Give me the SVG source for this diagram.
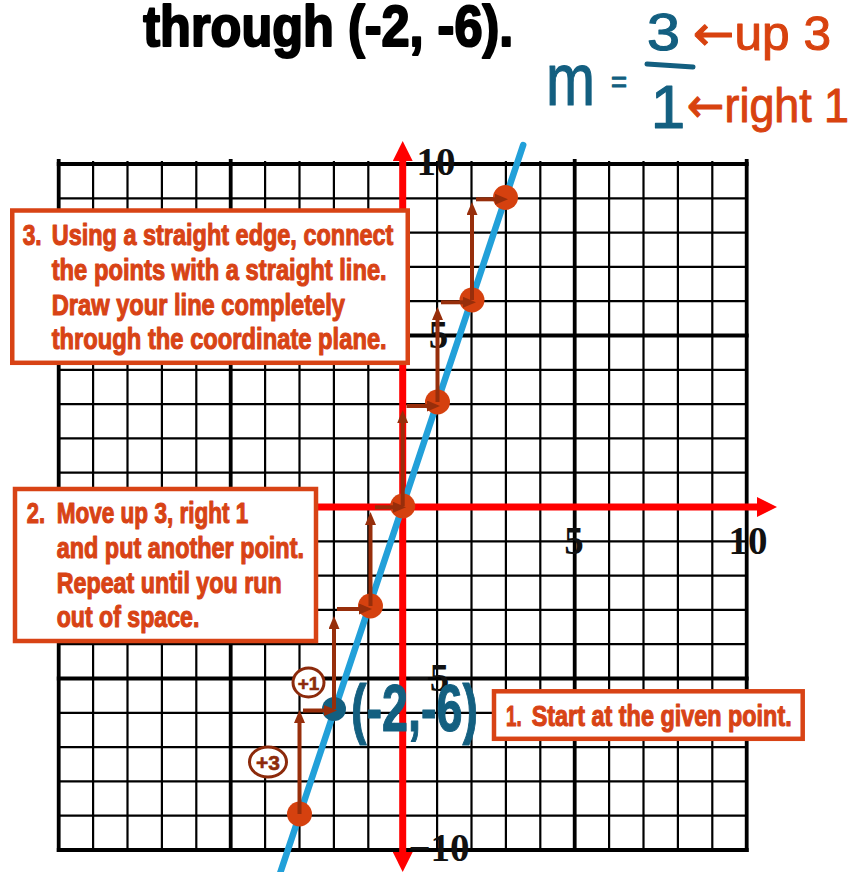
<svg xmlns="http://www.w3.org/2000/svg" width="862" height="872" viewBox="0 0 862 872">
<style>
.thin{stroke:#000;stroke-width:2.2;fill:none}
.thick{stroke:#000;stroke-width:3.8;fill:none;stroke-linecap:square}
.axis{stroke:#ff0000;stroke-width:7;fill:none}
.dot{fill:#d5410f}
.step{stroke:#972e0b;stroke-width:4;fill:none;marker-end:url(#ah)}
.box{fill:#fff;stroke:#d84315;stroke-width:4.5}
.bt{font-family:"Liberation Sans",Arial,sans-serif;font-weight:bold;font-size:29px;fill:#d84315;stroke:#d84315;stroke-width:1.1;stroke-linejoin:round}
.lab{font-family:"Liberation Serif","Times New Roman",serif;font-weight:bold;font-size:39px;fill:#111;text-anchor:middle}
.hb{font-family:"Liberation Sans",Arial,sans-serif;fill:#135f80;stroke:#135f80;stroke-width:1.2;stroke-linejoin:round}
.ho{font-family:"Liberation Sans",Arial,sans-serif;fill:#d8420f;stroke:#d8420f;stroke-width:1;stroke-linejoin:round}
.arr{font-family:"DejaVu Sans",sans-serif}
.inc{fill:#fff;stroke:#8c2a0b;stroke-width:3}
.inct{font-family:"Liberation Sans",Arial,sans-serif;font-weight:bold;fill:#8c2a0b;stroke:#8c2a0b;stroke-width:0.6;text-anchor:middle}
</style>
<defs>
<marker id="ah" markerUnits="userSpaceOnUse" markerWidth="13" markerHeight="11" refX="2" refY="5.5" orient="auto"><path d="M0,0 L13,5.5 L0,11 z" fill="#972e0b"/></marker>
<marker id="rh" markerUnits="userSpaceOnUse" markerWidth="20" markerHeight="20" refX="2" refY="10" orient="auto-start-reverse"><path d="M0,0 L20,10 L0,20 z" fill="#ff0000"/></marker>
</defs>
<rect width="862" height="872" fill="#fff"/>
<g id="title"><text x="143.3" y="46" font-family="'Liberation Sans',Arial,sans-serif" font-weight="bold" font-size="58" textLength="370" lengthAdjust="spacingAndGlyphs" fill="#000" stroke="#000" stroke-width="2.2" stroke-linejoin="round">through (-2, -6).</text></g>
<g id="grid">
<line class="thin" x1="93.1" y1="161" x2="93.1" y2="850"/>
<line class="thin" x1="127.5" y1="161" x2="127.5" y2="850"/>
<line class="thin" x1="161.9" y1="161" x2="161.9" y2="850"/>
<line class="thin" x1="196.3" y1="161" x2="196.3" y2="850"/>
<line class="thin" x1="265.1" y1="161" x2="265.1" y2="850"/>
<line class="thin" x1="299.5" y1="161" x2="299.5" y2="850"/>
<line class="thin" x1="333.9" y1="161" x2="333.9" y2="850"/>
<line class="thin" x1="368.3" y1="161" x2="368.3" y2="850"/>
<line class="thin" x1="437.1" y1="161" x2="437.1" y2="850"/>
<line class="thin" x1="471.5" y1="161" x2="471.5" y2="850"/>
<line class="thin" x1="505.9" y1="161" x2="505.9" y2="850"/>
<line class="thin" x1="540.3" y1="161" x2="540.3" y2="850"/>
<line class="thin" x1="609.1" y1="161" x2="609.1" y2="850"/>
<line class="thin" x1="643.5" y1="161" x2="643.5" y2="850"/>
<line class="thin" x1="677.9" y1="161" x2="677.9" y2="850"/>
<line class="thin" x1="712.3" y1="161" x2="712.3" y2="850"/>
<line class="thin" x1="58.7" y1="198.3" x2="746.7" y2="198.3"/>
<line class="thin" x1="58.7" y1="232.6" x2="746.7" y2="232.6"/>
<line class="thin" x1="58.7" y1="266.9" x2="746.7" y2="266.9"/>
<line class="thin" x1="58.7" y1="301.2" x2="746.7" y2="301.2"/>
<line class="thin" x1="58.7" y1="369.8" x2="746.7" y2="369.8"/>
<line class="thin" x1="58.7" y1="404.1" x2="746.7" y2="404.1"/>
<line class="thin" x1="58.7" y1="438.4" x2="746.7" y2="438.4"/>
<line class="thin" x1="58.7" y1="472.7" x2="746.7" y2="472.7"/>
<line class="thin" x1="58.7" y1="541.3" x2="746.7" y2="541.3"/>
<line class="thin" x1="58.7" y1="575.6" x2="746.7" y2="575.6"/>
<line class="thin" x1="58.7" y1="609.9" x2="746.7" y2="609.9"/>
<line class="thin" x1="58.7" y1="644.2" x2="746.7" y2="644.2"/>
<line class="thin" x1="58.7" y1="712.8" x2="746.7" y2="712.8"/>
<line class="thin" x1="58.7" y1="747.1" x2="746.7" y2="747.1"/>
<line class="thin" x1="58.7" y1="781.4" x2="746.7" y2="781.4"/>
<line class="thin" x1="58.7" y1="815.7" x2="746.7" y2="815.7"/>
<line class="thick" x1="58.7" y1="161" x2="58.7" y2="850"/>
<line class="thick" x1="230.7" y1="161" x2="230.7" y2="850"/>
<line class="thick" x1="402.7" y1="161" x2="402.7" y2="850"/>
<line class="thick" x1="574.7" y1="161" x2="574.7" y2="850"/>
<line class="thick" x1="746.7" y1="161" x2="746.7" y2="850"/>
<line class="thick" x1="58.7" y1="164" x2="746.7" y2="164"/>
<line class="thick" x1="58.7" y1="335.5" x2="746.7" y2="335.5"/>
<line class="thick" x1="58.7" y1="507" x2="746.7" y2="507"/>
<line class="thick" x1="58.7" y1="678.5" x2="746.7" y2="678.5"/>
<line class="thick" x1="58.7" y1="850" x2="746.7" y2="850"/>
</g>
<g id="axes">
<line class="axis" x1="402.7" y1="854" x2="402.7" y2="159" marker-start="url(#rh)" marker-end="url(#rh)"/>
<line class="axis" x1="40" y1="507" x2="759" y2="507" marker-end="url(#rh)"/>
</g>
<g id="axis-labels">
<text class="lab" x="436" y="175">10</text>
<text class="lab" x="438.5" y="348">5</text>
<text class="lab" x="574" y="554">5</text>
<text class="lab" x="748" y="554">10</text>
<text class="lab" x="428.5" y="691">−5</text>
<text class="lab" x="439" y="861">−10</text>
</g>
<g id="line"><line x1="523.2" y1="145" x2="279.5" y2="875" stroke="#22a0d9" stroke-width="6.5" stroke-linecap="round"/></g>
<g id="p-3-9"><circle class="dot" cx="299.5" cy="814" r="12.5"/></g>
<g id="p-2-6"><circle cx="334" cy="709" r="12" fill="#135f80"/></g>
<g id="p-1-3"><circle class="dot" cx="370.5" cy="606" r="12.5"/></g>
<g id="p00"><circle class="dot" cx="402.7" cy="506" r="12.5"/></g>
<g id="p13"><circle class="dot" cx="437.5" cy="402" r="12.5"/></g>
<g id="p26"><circle class="dot" cx="472" cy="300" r="12.5"/></g>
<g id="p39"><circle class="dot" cx="505.5" cy="197.5" r="12.5"/></g>
<g id="connectors">
<line class="step" x1="299.5" y1="814" x2="299.5" y2="721"/>
<line class="step" x1="303" y1="710.5" x2="326" y2="710.5"/>
<line class="step" x1="334" y1="709" x2="334" y2="627"/>
<line class="step" x1="337" y1="609" x2="361" y2="609"/>
<line class="step" x1="370.5" y1="606" x2="370.5" y2="523"/>
<line class="step" x1="375" y1="507.3" x2="395" y2="507.3"/>
<line class="step" x1="402.7" y1="506" x2="402.7" y2="421"/>
<line class="step" x1="406.5" y1="406" x2="429" y2="406"/>
<line class="step" x1="437.5" y1="402" x2="437.5" y2="318"/>
<line class="step" x1="441" y1="302.3" x2="465" y2="302.3"/>
<line class="step" x1="472" y1="300" x2="472" y2="213"/>
<line class="step" x1="476" y1="199.3" x2="497" y2="199.3"/>
</g>
<g id="inc1"><ellipse class="inc" cx="308.5" cy="682.5" rx="15.5" ry="14.5"/><text class="inct" x="308.5" y="689.5" font-size="19">+1</text></g>
<g id="inc3"><ellipse class="inc" cx="268" cy="762" rx="18.5" ry="15"/><text class="inct" x="268" y="769.5" font-size="21">+3</text></g>
<g id="given-label"><text class="hb" x="351" y="731" font-size="66" font-weight="bold" textLength="127" lengthAdjust="spacingAndGlyphs">(-2,-6)</text></g>
<g id="slope">
<text class="hb" x="546" y="105" font-size="74" textLength="49" lengthAdjust="spacingAndGlyphs">m</text>
<text class="hb" x="611" y="92" font-size="30" textLength="16" lengthAdjust="spacingAndGlyphs">=</text>
<text class="hb" x="647" y="50" font-size="52" textLength="33" lengthAdjust="spacingAndGlyphs">3</text>
<line x1="647" y1="64" x2="693" y2="67" stroke="#135f80" stroke-width="5" stroke-linecap="round"/>
<text class="hb" x="668" y="128" font-size="62" text-anchor="middle">1</text>
<text class="ho" x="693" y="50" font-size="48" textLength="138" lengthAdjust="spacingAndGlyphs"><tspan class="arr">←</tspan>up 3</text>
<text class="ho" x="687" y="122" font-size="48" textLength="162" lengthAdjust="spacingAndGlyphs"><tspan class="arr">←</tspan>right 1</text>
</g>
<g id="step3">
<rect class="box" x="12.25" y="210.5" width="395.5" height="152.3"/>
<text class="bt" x="22.7" y="245" textLength="19" lengthAdjust="spacingAndGlyphs">3.</text>
<text class="bt" x="51.7" y="245" textLength="341.7" lengthAdjust="spacingAndGlyphs">Using a straight edge, connect</text>
<text class="bt" x="51.7" y="280" textLength="335" lengthAdjust="spacingAndGlyphs">the points with a straight line.</text>
<text class="bt" x="51.7" y="314.5" textLength="293.3" lengthAdjust="spacingAndGlyphs">Draw your line completely</text>
<text class="bt" x="51.7" y="348.5" textLength="335" lengthAdjust="spacingAndGlyphs">through the coordinate plane.</text>
</g>
<g id="step2">
<rect class="box" x="15" y="489" width="301" height="152"/>
<text class="bt" x="26.7" y="523.3" textLength="18.3" lengthAdjust="spacingAndGlyphs">2.</text>
<text class="bt" x="56.7" y="523.3" textLength="191.7" lengthAdjust="spacingAndGlyphs">Move up 3, right 1</text>
<text class="bt" x="56.7" y="558.3" textLength="247.3" lengthAdjust="spacingAndGlyphs">and put another point.</text>
<text class="bt" x="56.7" y="593.3" textLength="225" lengthAdjust="spacingAndGlyphs">Repeat until you run</text>
<text class="bt" x="56.7" y="626.7" textLength="142.7" lengthAdjust="spacingAndGlyphs">out of space.</text>
</g>
<g id="step1">
<rect class="box" x="494" y="691.3" width="308.7" height="47.5"/>
<text class="bt" x="506" y="726" textLength="15.7" lengthAdjust="spacingAndGlyphs">1.</text>
<text class="bt" x="531.7" y="726" textLength="260" lengthAdjust="spacingAndGlyphs">Start at the given point.</text>
</g>
</svg>
